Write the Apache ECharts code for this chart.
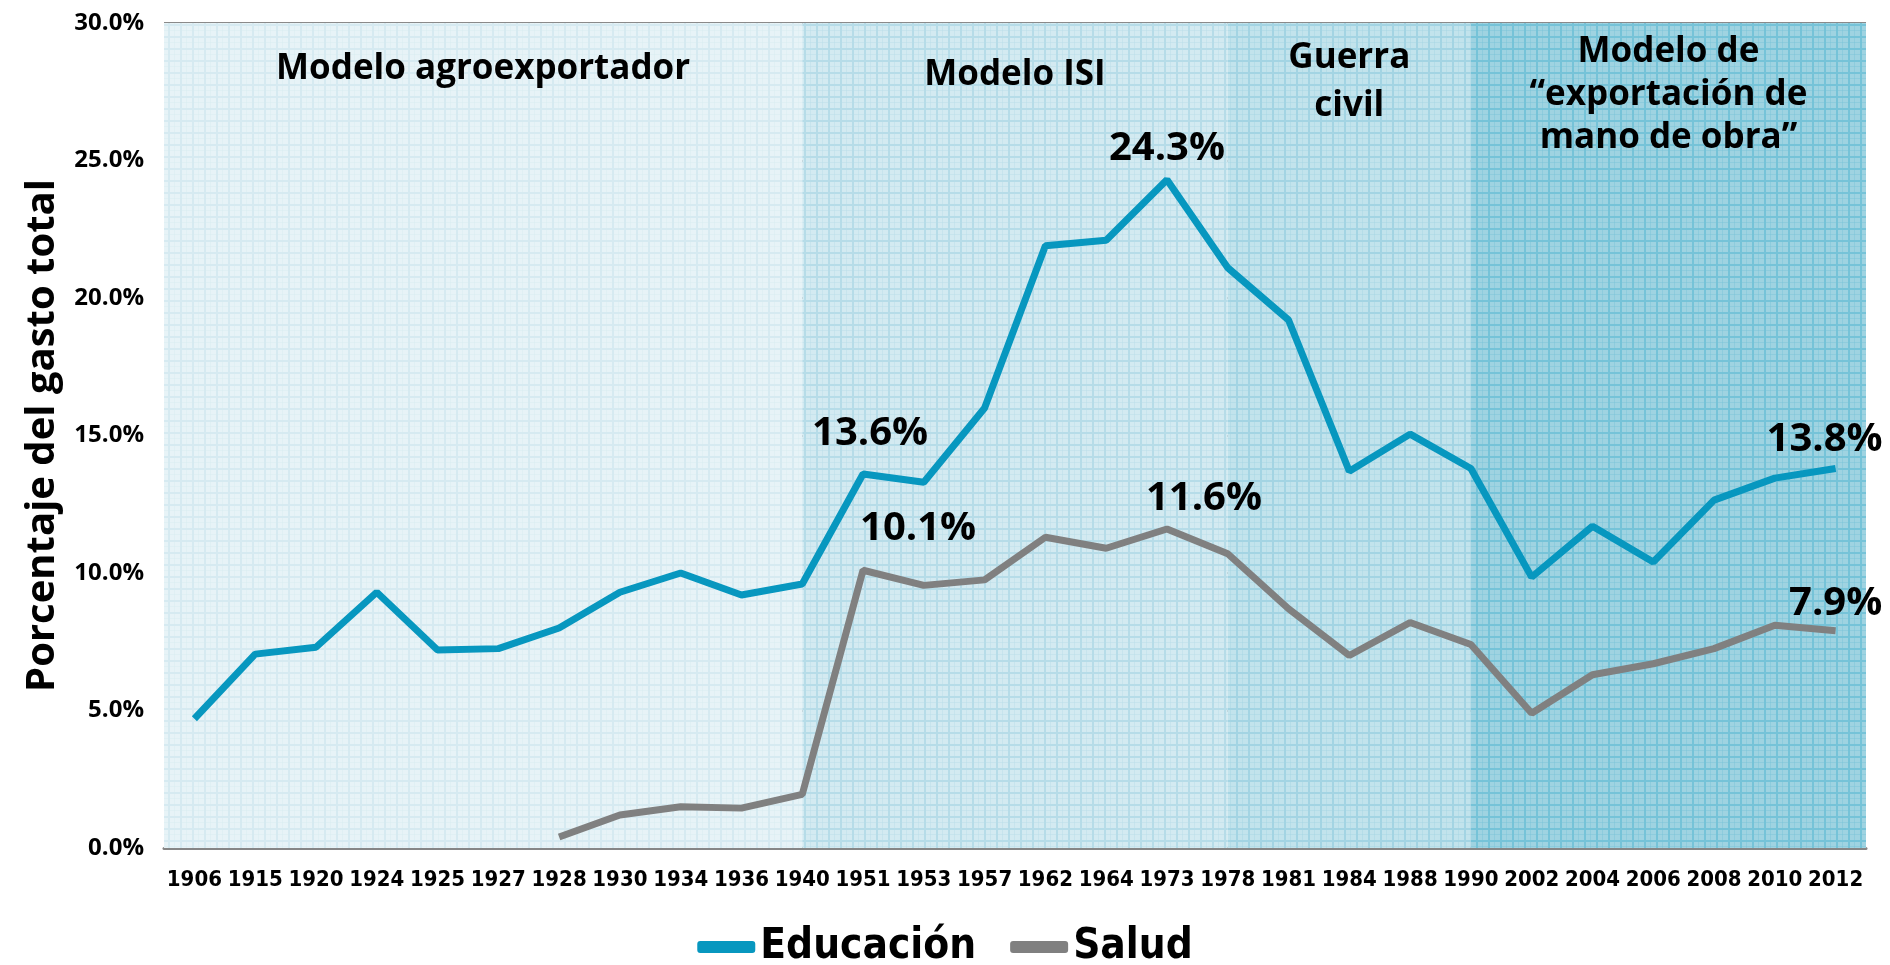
<!DOCTYPE html>
<html>
<head>
<meta charset="utf-8">
<script src="https://cdn.jsdelivr.net/npm/echarts@6/dist/echarts.min.js"></script>
<style>
html, body { margin: 0; padding: 0; background: #fff; }
#container { width: 1890px; height: 965px; }
</style>
</head>
<body>
<div id="container"></div>
<script>
// años (categorías)
var years = ['1906','1915','1920','1924','1925','1927','1928','1930','1934','1936','1940',
    '1951','1953','1957','1962','1964','1973','1978','1981','1984','1988','1990',
    '2002','2004','2006','2008','2010','2012'];
// % del gasto total
var educacion = [4.7, 7.05, 7.3, 9.3, 7.2, 7.25, 8.0, 9.3, 10.0, 9.2, 9.6,
    13.6, 13.3, 16.0, 21.9, 22.1, 24.3, 21.1, 19.2, 13.7, 15.05, 13.8,
    9.85, 11.7, 10.4, 12.65, 13.45, 13.8];
var salud = [null, null, null, null, null, null, 0.4, 1.2, 1.5, 1.45, 1.95,
    10.1, 9.55, 9.75, 11.3, 10.9, 11.6, 10.7, 8.7, 7.0, 8.2, 7.4,
    4.9, 6.3, 6.7, 7.25, 8.1, 7.9];
// etapas: límites en índice de categoría
var etapas = ['Modelo agroexportador', 'Modelo ISI', 'Guerra\ncivil', 'Modelo de\n“exportación de\nmano de obra”'];
var limites = [-0.5, 10, 17, 21, 27.5];
var yTicks = [0, 5, 10, 15, 20, 25, 30];

var condensada = "'DejaVu Sans Condensed', 'Liberation Sans Narrow', 'DejaVu Sans', sans-serif";

var dom = document.getElementById("container");
var myChart = echarts.init(dom);

// fondo cuadriculado
function patron(base, linea) {
    var c = document.createElement('canvas');
    c.width = 12; c.height = 12;
    var ctx = c.getContext('2d');
    ctx.fillStyle = base;
    ctx.fillRect(0, 0, 12, 12);
    ctx.fillStyle = linea;
    ctx.fillRect(0, 0, 12, 2);
    ctx.fillRect(0, 0, 2, 12);
    ctx.globalAlpha = 0.4;
    ctx.fillRect(6, 0, 1, 12);
    ctx.fillRect(0, 6, 12, 1);
    return { image: c, repeat: 'repeat' };
}
var fondos = [
    patron('#e7f3f7', '#d6eaf1'),
    patron('#d3eaf1', '#b6dce8'),
    patron('#c2e3ec', '#a3d4e3'),
    patron('#9fd3e1', '#76c3d8')
];
var distTitulo = [24, 30, 11, 8];
var altoLinea = [44, 44, 48, 43];

var areas = etapas.map(function (nombre, i) {
    return [{
        xAxis: limites[i], yAxis: 0,
        itemStyle: { color: fondos[i] },
        label: { show: true, position: 'insideTop', distance: distTitulo[i],
            formatter: nombre, fontFamily: 'Open Sans', fontWeight: 'bold',
            fontSize: 35, lineHeight: altoLinea[i], color: '#000', align: 'center' }
    }, { xAxis: limites[i + 1], yAxis: 30.3 }];
});

// etiquetas de valores destacados
var marcasEdu = { 11: [7, -15], 16: [0, -6], 27: [-11, -4] };
var marcasSal = { 11: [55, -17], 16: [37, -5], 27: [0, -2] };
function conEtiquetas(serie, marcas) {
    return serie.map(function (v, i) {
        if (marcas[i]) {
            return { value: v, label: { show: true, position: 'top', offset: marcas[i],
                formatter: v.toFixed(1) + '%', fontFamily: 'Open Sans', fontWeight: 'bold',
                fontSize: 40, color: '#000' } };
        }
        return v;
    });
}

var option = {
    animation: false,
    grid: { left: 164, right: 24, top: 23, bottom: 117 },
    legend: {
        top: 921,
        left: 'center',
        icon: 'roundRect',
        itemWidth: 58,
        itemHeight: 12,
        itemGap: 34,
        itemStyle: { borderWidth: 0 },
        data: ['Educación', 'Salud'],
        textStyle: { fontFamily: condensada, fontWeight: 'bold', fontSize: 42, color: '#000' }
    },
    xAxis: [{
        type: 'category',
        data: years,
        axisLine: { lineStyle: { color: '#868686', width: 3 } },
        axisTick: { show: false },
        axisLabel: { color: '#000', fontFamily: condensada, fontWeight: 'bold', fontSize: 22, margin: 21, interval: 0 }
    }, {
        type: 'value', min: -0.5, max: 27.5, show: false
    }],
    yAxis: {
        type: 'value',
        min: yTicks[0],
        max: yTicks[yTicks.length - 1],
        interval: 5,
        name: 'Porcentaje del gasto total',
        nameLocation: 'middle',
        nameGap: 101,
        nameTextStyle: { fontFamily: 'Open Sans', fontWeight: 'bold', fontSize: 40, color: '#000' },
        axisLine: { show: true, lineStyle: { color: '#868686', width: 2 } },
        axisTick: { show: false },
        axisLabel: { color: '#000', fontFamily: 'Open Sans', fontWeight: 'bold', fontSize: 24, margin: 20,
            formatter: function (v) { return v.toFixed(1) + '%'; } },
        splitLine: { lineStyle: { color: '#8a8a8a', width: 2 } }
    },
    series: [{
        name: 'Educación',
        type: 'line',
        data: conEtiquetas(educacion, marcasEdu),
        symbol: 'circle',
        symbolSize: 0,
        itemStyle: { color: '#0797bf' },
        lineStyle: { width: 7, color: '#0797bf' },
        z: 3
    }, {
        name: 'Salud',
        type: 'line',
        data: conEtiquetas(salud, marcasSal),
        symbol: 'circle',
        symbolSize: 0,
        itemStyle: { color: '#808080' },
        lineStyle: { width: 7, color: '#808080' },
        z: 2
    }, {
        name: 'fondo',
        type: 'line',
        xAxisIndex: 1,
        data: [],
        clip: false,
        silent: true,
        z: 0,
        markArea: { silent: true, data: areas }
    }]
};
if (option && typeof option === "object") {
    myChart.setOption(option, true);
}
</script>
</body>
</html>
